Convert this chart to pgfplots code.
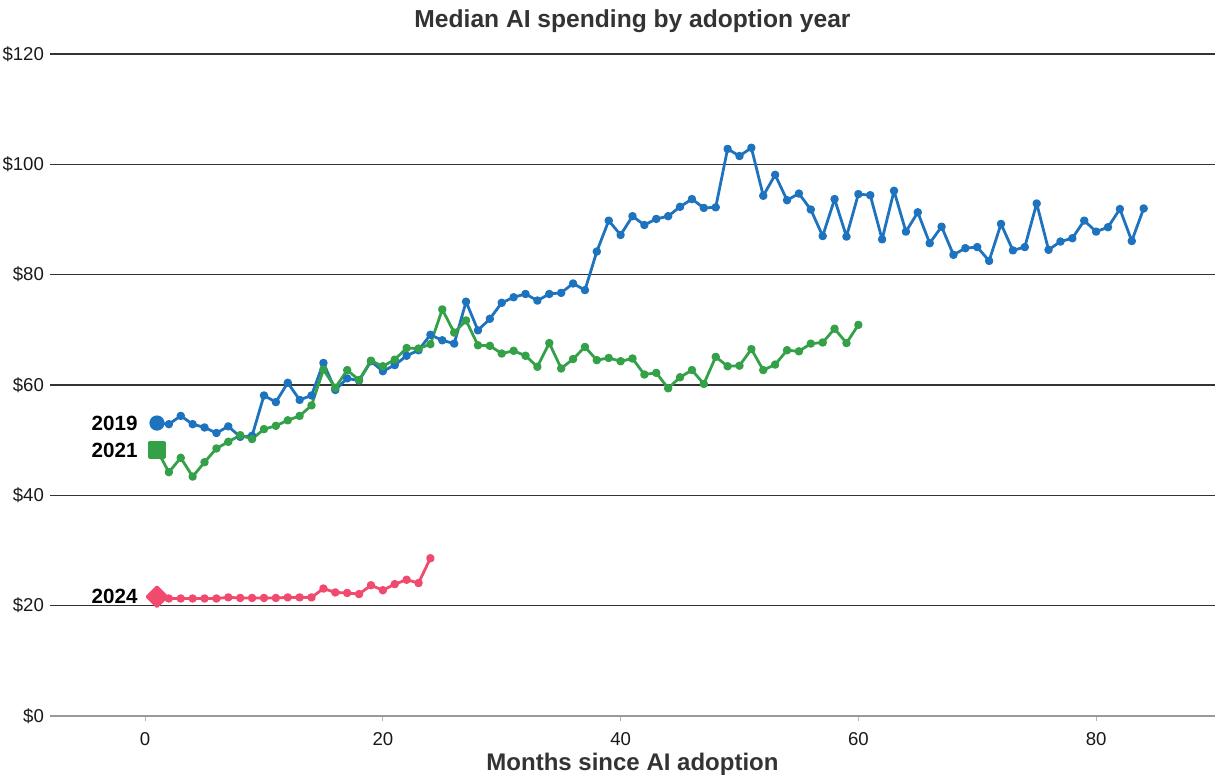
\documentclass[border=0pt]{standalone}
\usepackage{pgfplots}
\pgfplotsset{compat=1.18}
\usepackage{fontspec}
\setmainfont{Liberation Sans}

\definecolor{c2019}{RGB}{30,115,190}
\definecolor{c2021}{RGB}{52,160,72}
\definecolor{c2024}{RGB}{240,75,110}
\definecolor{inkgray}{RGB}{51,51,51}

% Median monthly AI spending per adoption cohort
\pgfplotstableread{
m  v
1  53.1
2  52.9
3  54.4
4  52.9
5  52.3
6  51.3
7  52.5
8  50.6
9  50.8
10 58.1
11 56.9
12 60.4
13 57.3
14 58.1
15 64.0
16 59.1
17 61.2
18 60.8
19 64.3
20 62.5
21 63.6
22 65.3
23 66.3
24 69.1
25 68.1
26 67.5
27 75.1
28 69.9
29 72.0
30 74.9
31 75.9
32 76.5
33 75.3
34 76.5
35 76.7
36 78.4
37 77.2
38 84.2
39 89.8
40 87.2
41 90.6
42 89.0
43 90.1
44 90.6
45 92.3
46 93.7
47 92.1
48 92.2
49 102.8
50 101.5
51 103.0
52 94.3
53 98.1
54 93.5
55 94.7
56 91.8
57 87.0
58 93.7
59 86.9
60 94.6
61 94.4
62 86.4
63 95.2
64 87.8
65 91.3
66 85.7
67 88.7
68 83.6
69 84.8
70 85.0
71 82.5
72 89.2
73 84.4
74 85.0
75 92.9
76 84.5
77 86.0
78 86.6
79 89.8
80 87.8
81 88.6
82 91.9
83 86.1
84 92.0
}\cohortA

\pgfplotstableread{
m  v
1  48.2
2  44.2
3  46.8
4  43.4
5  46.0
6  48.5
7  49.7
8  50.9
9  50.2
10 52.0
11 52.6
12 53.6
13 54.4
14 56.3
15 62.8
16 59.5
17 62.7
18 60.9
19 64.4
20 63.4
21 64.6
22 66.7
23 66.6
24 67.4
25 73.7
26 69.5
27 71.7
28 67.2
29 67.1
30 65.7
31 66.2
32 65.3
33 63.3
34 67.6
35 63.0
36 64.7
37 66.9
38 64.5
39 64.9
40 64.3
41 64.8
42 61.9
43 62.2
44 59.4
45 61.4
46 62.7
47 60.2
48 65.1
49 63.4
50 63.5
51 66.5
52 62.7
53 63.7
54 66.3
55 66.1
56 67.5
57 67.7
58 70.2
59 67.6
60 70.9
}\cohortB

\pgfplotstableread{
m  v
1  21.6
2  21.3
3  21.3
4  21.3
5  21.3
6  21.3
7  21.5
8  21.4
9  21.4
10 21.4
11 21.4
12 21.5
13 21.5
14 21.5
15 23.1
16 22.4
17 22.3
18 22.1
19 23.7
20 22.8
21 23.9
22 24.7
23 24.1
24 28.6
}\cohortC

\begin{document}
\begin{tikzpicture}
\begin{axis}[
  scale only axis,
  width=582.5pt, height=331pt,
  xmin=-8, xmax=90, ymin=0, ymax=120,
  clip=false,
  axis line style={draw=none},
  xtick={0,20,40,60,80},
  xtick pos=bottom,
  ytick={20,40,60,80,100,120},
  yticklabels={\$20,\$40,\$60,\$80,\$100,\$120},
  extra y ticks={0},
  extra y tick labels={\$0},
  extra y tick style={grid style={black!40, line width=0.6pt}},
  ymajorgrids,
  grid style={black!80, line width=0.6pt},
  tick align=outside,
  major tick length=2.5pt,
  xtick style={black!30, line width=0.6pt},
  ytick style={draw=none},
  /pgf/number format/assume math mode=true,
  tick label style={font=\fontsize{9.3}{11}\selectfont, text=black!90},
  yticklabel style={xshift=3pt},
  xticklabel style={yshift=-2pt},
  title={Median AI spending by adoption year},
  title style={font=\bfseries\fontsize{12.3}{14}\selectfont, text=inkgray,
    at={(axis description cs:0.5,1)}, anchor=base, yshift=7pt},
  xlabel={Months since AI adoption},
  xlabel style={font=\bfseries\fontsize{12}{14}\selectfont, text=inkgray,
    at={(axis description cs:0.5,0)}, anchor=base, yshift=-27.5pt},
  every axis plot/.append style={line width=1.4pt, line join=round},
]
\addplot[c2019, mark=*, mark size=1.4pt] table[x=m, y=v] {\cohortA};
\addplot[c2021, mark=*, mark size=1.4pt] table[x=m, y=v] {\cohortB};
\addplot[c2024, mark=*, mark size=1.4pt] table[x=m, y=v] {\cohortC};

% cohort start markers
\addplot[c2019, only marks, mark=*, mark size=3.1pt] coordinates {(1,53.1)};
\addplot[c2021, only marks, mark=square*, mark size=3.8pt] coordinates {(1,48.2)};
\addplot[c2024, only marks, mark=square*, mark size=3.5pt, mark options={rotate=45}] coordinates {(1,21.6)};

\node[anchor=east, xshift=-6.2pt, font=\bfseries\fontsize{10.3}{12}\selectfont] at (axis cs:1,53.1) {2019};
\node[anchor=east, xshift=-6.2pt, font=\bfseries\fontsize{10.3}{12}\selectfont] at (axis cs:1,48.2) {2021};
\node[anchor=east, xshift=-6.2pt, font=\bfseries\fontsize{10.3}{12}\selectfont] at (axis cs:1,21.6) {2024};
\end{axis}
\pgfresetboundingbox
\useasboundingbox (-25pt,-29.5pt) rectangle (582.5pt,358pt);
\end{tikzpicture}
\end{document}
